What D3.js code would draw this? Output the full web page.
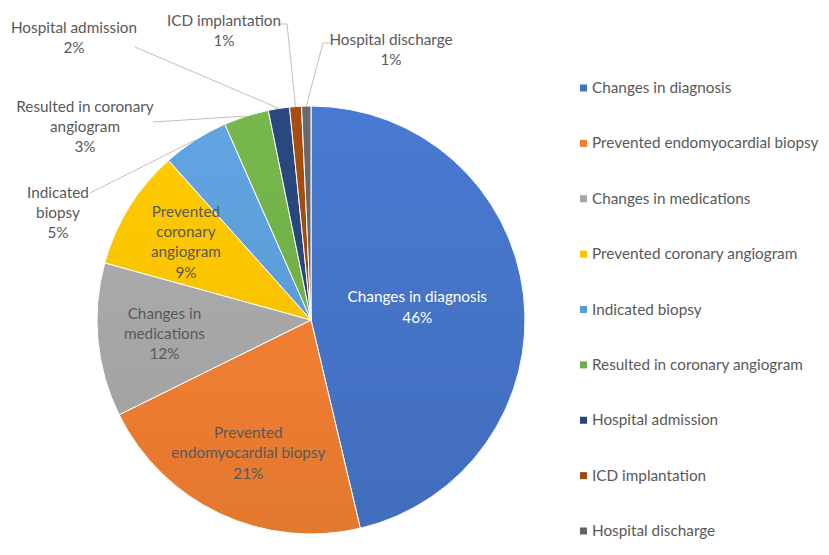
<!DOCTYPE html>
<html><head><meta charset="utf-8">
<script src="https://cdn.jsdelivr.net/npm/d3@7"></script>
<style>
html,body{margin:0;padding:0;background:#fff;}
svg{display:block;font-family:Lato,"Open Sans",sans-serif;}
</style></head>
<body><svg id="c" width="829" height="555"></svg>
<script>
// ---- data ----
const categories = ["Changes in diagnosis","Prevented endomyocardial biopsy","Changes in medications","Prevented coronary angiogram","Indicated biopsy","Resulted in coronary angiogram","Hospital admission","ICD implantation","Hospital discharge"];
const values = [46.3, 21.4, 11.6, 9.1, 5.0, 3.4, 1.6, 0.9, 0.7];
const colors = ["#4472C4","#ED7D31","#A5A5A5","#FFC000","#5B9BD5","#70AD47","#264478","#9E480E","#636363"];
const labelLines = [["Changes in diagnosis"],["Prevented","endomyocardial  biopsy"],["Changes in","medications"],["Prevented","coronary","angiogram"],["Indicated","biopsy"],["Resulted in coronary","angiogram"],["Hospital admission"],["ICD implantation"],["Hospital discharge"]];

// ---- layout ----
const cx = 311, cy = 320, R = 214;
const svg = d3.select("#c");
const defs = svg.append("defs");
colors.forEach((c,i)=>{
  const gr = defs.append("linearGradient").attr("id","g"+i)
    .attr("gradientUnits","userSpaceOnUse").attr("x1",0).attr("y1",-R).attr("x2",0).attr("y2",R);
  gr.append("stop").attr("offset","0%").attr("stop-color", d3.color(c).brighter(0.18));
  gr.append("stop").attr("offset","100%").attr("stop-color", d3.color(c).darker(0.12));
});
const pieGen = d3.pie().sort(null).value(d=>d);
const arcsCW = pieGen(values);
const arc = d3.arc().innerRadius(0).outerRadius(R);
const g = svg.append("g").attr("transform",`translate(${cx},${cy})`);
g.selectAll("path").data(arcsCW).join("path")
  .attr("d", arc)
  .attr("fill",(d,i)=>`url(#g${i})`)
  .attr("stroke","#fff").attr("stroke-width",1);

const fs = 15.3, lh = 20.3;
function block(x, y, lines, fill){
  const n = lines.length;
  const t = svg.append("text").attr("text-anchor","middle").attr("font-size",fs).attr("fill",fill);
  lines.forEach((l,k)=>{
    t.append("tspan").attr("x",x).attr("y", y + (k-(n-1)/2)*lh + 5).text(l);
  });
}
const total = d3.sum(values);
const pct = v => Math.round(v/total*100)+"%";

// inside labels
[0,1,2,3].forEach(i=>{
  const a = arcsCW[i];
  const mid = (a.startAngle+a.endAngle)/2;
  const rr = i===0 ? R*0.5 : R*0.688;
  const x = cx + rr*Math.sin(mid), y = cy - rr*Math.cos(mid);
  block(x, y, [...labelLines[i], pct(values[i])], i===0 ? "#ffffff" : "#595959");
});

// outside labels with leader lines
const outside = [
  {i:4, x:58,  y:213, lx:[90,193]},
  {i:5, x:85,  y:127, lx:[153,122]},
  {i:6, x:74,  y:38,  lx:[135,47]},
  {i:7, x:224, y:31,  lx:[280,24], bend:[287,24]},
  {i:8, x:391, y:50,  lx:[330,43], bend:[323,43]},
];
outside.forEach(o=>{
  const a = arcsCW[o.i];
  const mid = (a.startAngle+a.endAngle)/2;
  const ex = cx + R*Math.sin(mid), ey = cy - R*Math.cos(mid);
  const pts = [o.lx]; if(o.bend) pts.push(o.bend); pts.push([ex,ey]);
  svg.append("path").attr("d", d3.line()(pts)).attr("fill","none").attr("stroke","#bfbfbf").attr("stroke-width",1);
  block(o.x, o.y, [...labelLines[o.i], pct(values[o.i])], "#595959");
});

// legend
const ly = d3.scalePoint().domain(categories).range([88, 531]);
const lg = svg.append("g");
categories.forEach((c,i)=>{
  lg.append("rect").attr("x",580).attr("y",ly(c)-3.5).attr("width",7).attr("height",7).attr("fill",colors[i]);
  lg.append("text").attr("x",592).attr("y",ly(c)+5).attr("font-size",15.3).attr("fill","#595959").text(c);
});
</script></body></html>
